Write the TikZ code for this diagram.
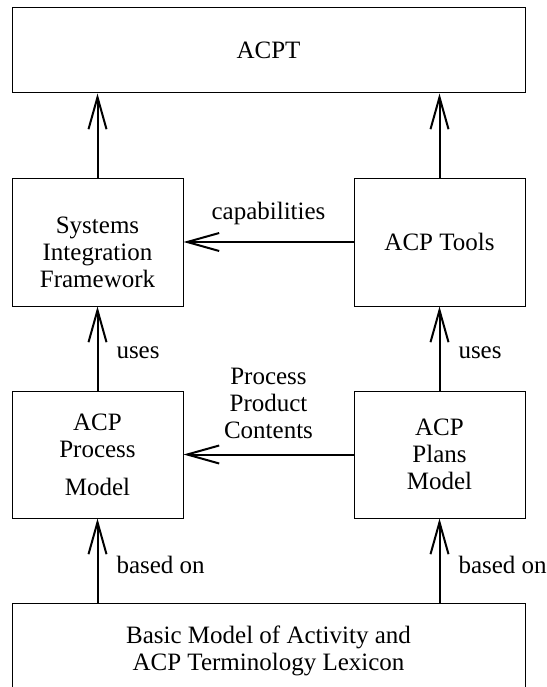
\documentclass[tikz,border=0pt]{standalone}
\usepackage{fontspec}
\setmainfont{Liberation Serif}
\usetikzlibrary{arrows.meta}
\begin{document}
\begin{tikzpicture}[x=1pt, y=-1pt, font=\fontsize{25}{27}\selectfont]
\tikzstyle{block} = [rectangle, draw=black, line width=1pt, align=center, inner sep=0pt]
\tikzstyle{flow} = [-{Straight Barb[length=32pt, width=18pt]}, line width=2pt]
\tikzstyle{tag} = [inner sep=2pt]
\useasboundingbox (0,0) rectangle (546,687);

\node (ACPT) [block, minimum width=513pt, minimum height=85pt] at (268.5,50.5) {ACPT};
\node (SIF) [block, minimum width=171pt, minimum height=128pt] at (97.5,242) {};
\node (SIFtext) [align=center, inner sep=0pt] at ([yshift=-10pt]SIF.center) {Systems\\Integration\\Framework};
\node (Tools) [block, minimum width=171pt, minimum height=128pt] at (439.5,242) {ACP Tools};
\node (PM) [block, minimum width=171pt, minimum height=127pt] at (97.5,454.5) {ACP\\Process\\[11pt]Model};
\node (Plans) [block, minimum width=171pt, minimum height=127pt] at (439.5,454.5) {ACP\\Plans\\Model};
\node (Basic) [block, minimum width=513pt, minimum height=96pt] at (268.5,651) {Basic Model of Activity and\\ACP Terminology Lexicon};

\path [flow] (SIF) edge (SIF |- ACPT.south)
             (Tools) edge (Tools |- ACPT.south)
             (Tools) edge node [tag, above=14pt] {capabilities} (SIF)
             (PM) edge node [tag, right=16pt, pos=0.45] {uses} (SIF)
             (Plans) edge node [tag, right=16pt, pos=0.45] {uses} (Tools)
             (Plans) edge node [tag, above=13pt, align=center] {Process\\Product\\Contents} (PM)
             (PM |- Basic.north) edge node [tag, right=16pt, pos=0.45] {based on} (PM)
             (Plans |- Basic.north) edge node [tag, right=16pt, pos=0.45] {based on} (Plans);
\end{tikzpicture}
\end{document}
